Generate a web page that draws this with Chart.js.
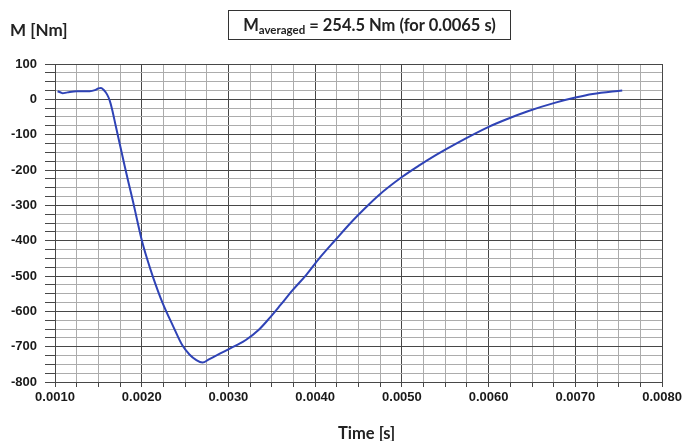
<!DOCTYPE html>
<html>
<head>
<meta charset="utf-8">
<script src="https://cdn.jsdelivr.net/npm/chart.js@4.4.0/dist/chart.umd.min.js"></script>
<style>
  body { margin: 0; background: #fff; }
  #wrap { position: relative; width: 685px; height: 441px; }
  .lbl { position: absolute; font-family: Lato, "Open Sans", sans-serif; font-weight: bold; color: #222; white-space: nowrap; }
  #ytitle { left: 10px; top: 19px; font-size: 17px; }
  #box { left: 228px; top: 10px; width: 281px; height: 28px; border: 1px solid #333; text-align: center; line-height: 28px; font-size: 16.5px; }
  #box sub { font-size: 11.5px; vertical-align: -3px; }
  #xtitle { left: 338px; top: 423px; font-size: 16.5px; }
</style>
</head>
<body>
<div id="wrap">
  <canvas id="chart" width="685" height="441"></canvas>
  <div class="lbl" id="ytitle">M [Nm]</div>
  <div class="lbl" id="box">M<sub>averaged</sub> = 254.5 Nm (for 0.0065 s)</div>
  <div class="lbl" id="xtitle">Time [s]</div>
</div>
<script>
// time [s]
var timeValues = [0.00103, 0.00106, 0.00109, 0.00113, 0.00117, 0.00125, 0.00135, 0.00140, 0.00146, 0.00150,
    0.00153, 0.00156, 0.00160, 0.00163, 0.00166, 0.00170, 0.00175, 0.00180, 0.00185, 0.00190,
    0.00195, 0.00200, 0.00206, 0.00213, 0.00224, 0.00236, 0.00247, 0.00255, 0.00263, 0.00270,
    0.00278, 0.00290, 0.00301, 0.00310, 0.00320, 0.00335, 0.00347, 0.00360, 0.00374, 0.00390,
    0.00404, 0.00424, 0.00440, 0.00458, 0.00473, 0.00500, 0.00520, 0.00539, 0.00562, 0.00600,
    0.00620, 0.00646, 0.00676, 0.00700, 0.00720, 0.00754];
// torque [Nm]
var torqueValues = [23, 20, 17, 19, 21, 23, 23, 23, 26, 31,
    32, 27, 14, -3, -30, -75, -130, -185, -238, -290,
    -345, -398, -450, -503, -576, -641, -697, -722, -738, -745,
    -735, -720, -706, -695, -681, -652, -620, -582, -540, -496,
    -452, -396, -352, -307, -272, -220, -187, -158, -126, -78,
    -57, -33, -10, 5, 15, 25];

var points = timeValues.map(function (t, i) { return { x: t, y: torqueValues[i] }; });

function majorX(v) { return Math.abs(v * 1000 - Math.round(v * 1000)) < 1e-6; }
function majorY(v) { return Math.abs(v / 100 - Math.round(v / 100)) < 1e-6; }

var dark = '#474747';
var light = '#acacac';

new Chart(document.getElementById('chart'), {
    type: 'line',
    data: {
        datasets: [{
            data: points,
            borderColor: '#2f43b6',
            borderWidth: 2,
            pointRadius: 0,
            fill: false,
            cubicInterpolationMode: 'monotone'
        }]
    },
    options: {
        responsive: false,
        animation: false,
        layout: { padding: { left: 0, right: 21, top: 64, bottom: 0 } },
        plugins: { legend: { display: false }, tooltip: { enabled: false } },
        scales: {
            x: {
                type: 'linear',
                min: 0.001,
                max: 0.008,
                afterFit: function (axis) { axis.height = 59; },
                border: { color: dark, width: 1 },
                grid: {
                    color: function (ctx) { return ctx.tick && majorX(ctx.tick.value) ? dark : light; },
                    tickColor: dark,
                    tickLength: 5
                },
                ticks: {
                    stepSize: 0.00025,
                    autoSkip: false,
                    maxRotation: 0,
                    padding: 3,
                    color: '#1a1a1a',
                    font: { family: 'Liberation Sans', size: 13, weight: 'bold' },
                    callback: function (v) { return majorX(v) ? v.toFixed(4) : ''; }
                }
            },
            y: {
                min: -800,
                max: 100,
                afterFit: function (axis) { axis.width = 55; },
                border: { color: dark, width: 1 },
                grid: {
                    color: function (ctx) { return ctx.tick && majorY(ctx.tick.value) ? dark : light; },
                    tickColor: dark,
                    tickLength: 10
                },
                ticks: {
                    stepSize: 25,
                    autoSkip: false,
                    padding: 8,
                    color: '#1a1a1a',
                    font: { family: 'Liberation Sans', size: 13, weight: 'bold' },
                    callback: function (v) { return majorY(v) ? String(Math.round(v)) : ''; }
                }
            }
        }
    }
});
</script>
</body>
</html>
